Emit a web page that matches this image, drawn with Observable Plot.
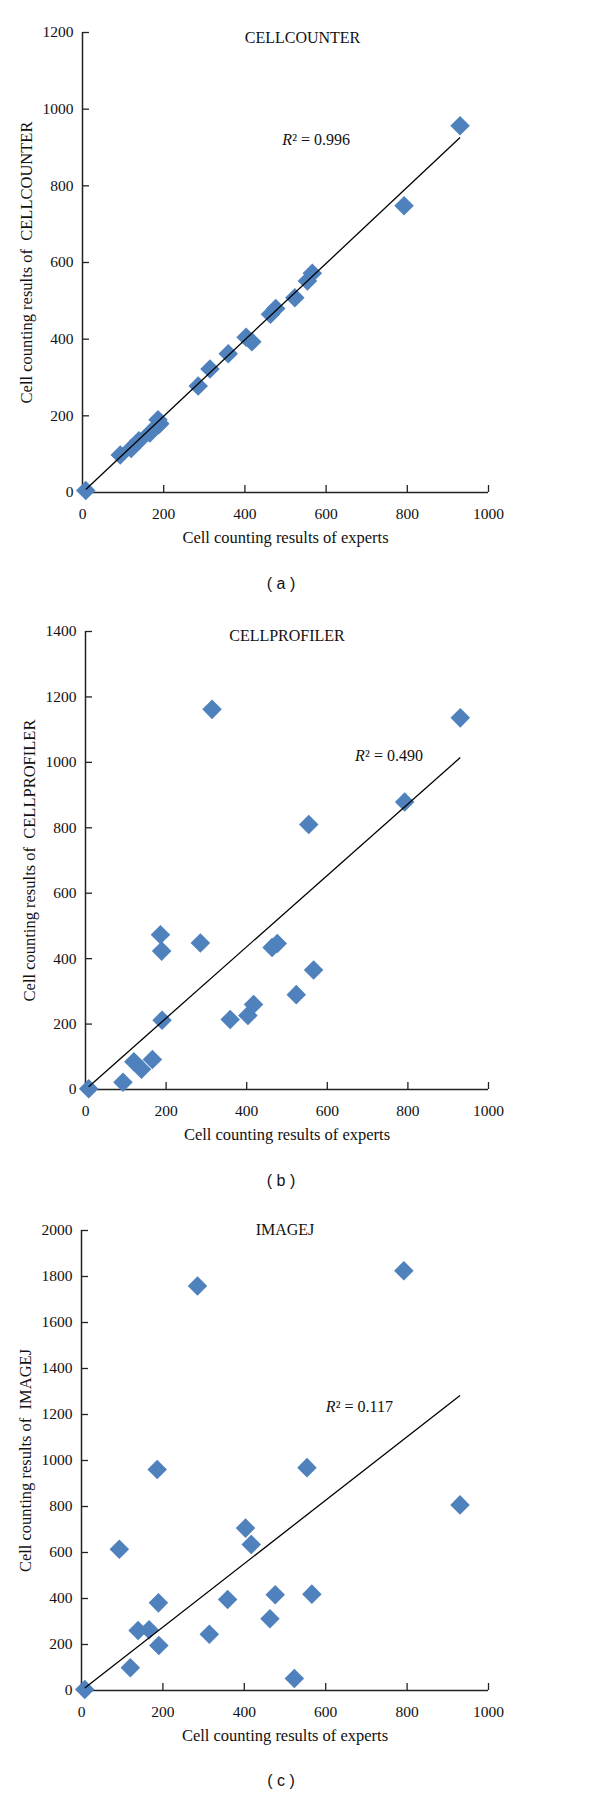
<!DOCTYPE html>
<html>
<head>
<meta charset="utf-8">
<script src="https://cdn.jsdelivr.net/npm/d3@7"></script>
<script src="https://cdn.jsdelivr.net/npm/@observablehq/plot@0.6"></script>
<style>
  body { margin: 0; background: #fff; }
  #root { position: relative; width: 600px; height: 1798px; }
  .panel { position: absolute; left: 0; }
  .cap { position: absolute; width: 60px; text-align: center; font-family: "Liberation Sans", Arial, sans-serif; font-size: 16px; color: #111; }
  svg text { font-family: 'Liberation Serif', 'Times New Roman', serif; }
</style>
</head>
<body>
<div id="root"></div>
<script>
// ---- data ----
const experts      = [8, 93, 120, 139, 166, 186, 189, 190, 285, 314, 359, 403, 417, 463, 476, 523, 554, 566, 792, 930];
const cellcounter  = [5, 98, 115, 135, 155, 190, 178, 180, 278, 322, 362, 405, 393, 465, 480, 508, 552, 572, 748, 957];
const cellprofiler = [2, 22, 85, 62, 92, 473, 423, 212, 448, 1162, 214, 226, 260, 434, 446, 290, 810, 365, 879, 1136];
const imagej       = [4, 614, 99, 261, 264, 961, 381, 196, 1759, 245, 396, 706, 635, 312, 416, 52, 969, 419, 1825, 807];
const tools        = ["CELLCOUNTER", "CELLPROFILER", "IMAGEJ"];
const r2Values     = ["0.996", "0.490", "0.117"];
const trendSlopes  = [0.996, 1.091, 1.379];
const yMax         = [1200, 1400, 2000];
const captions     = ["( a )", "( b )", "( c )"];
const xTicks       = [0, 200, 400, 600, 800, 1000];
const xLabel       = "Cell counting results of experts";
const yLabelPrefix = "Cell counting results of  ";

const series = [cellcounter, cellprofiler, imagej];

// ---- layout per panel ----
const layout = [
  {top: 0,    mt: 32, mb: 68, ml: 82, mr: 112, titleDx: 17, titleDy: 5,  r2: [492, 907],  cap: 585},
  {top: 598,  mt: 33, mb: 69, ml: 85, mr: 112, titleDx: 0,  titleDy: 4,  r2: [669, 1003], cap: 1182},
  {top: 1200, mt: 30, mb: 70, ml: 81, mr: 112, titleDx: 0,  titleDy: -1, r2: [600, 1209], cap: 1782}
];

const serif = "'Liberation Serif', 'Times New Roman', serif";
const root = document.getElementById("root");
const fmt = d3.format("d");

series.forEach((ys, i) => {
  const L = layout[i];
  const pts = experts.map((x, j) => ({x, y: ys[j]}));
  const [x0, x1] = d3.extent(experts);
  const trend = [{x1: x0, y1: trendSlopes[i] * x0, x2: x1, y2: trendSlopes[i] * x1}];
  const yTicks = d3.range(0, yMax[i] + 1, 200);

  const chart = Plot.plot({
    width: 600,
    height: 560,
    marginTop: L.mt,
    marginBottom: L.mb,
    marginLeft: L.ml,
    marginRight: L.mr,
    style: {fontFamily: serif, fontSize: "15px", color: "#111", background: "#fff"},
    x: {domain: [0, 1000]},
    y: {domain: [0, yMax[i]]},
    marks: [
      Plot.axisX({ticks: xTicks, tickFormat: fmt, tickSize: -7, tickPadding: 22, label: null, stroke: "#222", strokeWidth: 1.3, fontSize: 15.5, fontFamily: serif, fill: "#111"}),
      Plot.axisY({ticks: yTicks, tickFormat: fmt, tickSize: -7, tickPadding: 16, label: null, stroke: "#222", strokeWidth: 1.3, fontSize: 15.5, fontFamily: serif, fill: "#111"}),
      Plot.ruleY([0], {stroke: "#222", strokeWidth: 1.5}),
      Plot.ruleX([0], {stroke: "#222", strokeWidth: 1.5}),
      Plot.dot(pts, {x: "x", y: "y", symbol: "diamond2", r: 8.8, fill: "#4f81bd", stroke: "none"}),
      Plot.link(trend, {x1: "x1", y1: "y1", x2: "x2", y2: "y2", stroke: "#000", strokeWidth: 1.3}),
      Plot.text([tools[i]], {frameAnchor: "top", textAnchor: "middle", dx: L.titleDx, dy: L.titleDy, fontSize: 16, fontFamily: serif, lineAnchor: "middle", fill: "#111"}),
      Plot.text([xLabel], {frameAnchor: "bottom", textAnchor: "middle", dy: 45, fontSize: 16.5, fontFamily: serif, lineAnchor: "middle", fill: "#111"}),
      Plot.text([yLabelPrefix + tools[i]], {frameAnchor: "left", textAnchor: "middle", dx: -56, rotate: -90, fontSize: 16.5, fontFamily: serif, lineAnchor: "middle", fill: "#111"}),
      Plot.text(["R"], {x: () => L.r2[0], y: () => L.r2[1], textAnchor: "start", lineAnchor: "bottom", fontStyle: "italic", fontSize: 16, fontFamily: serif, fill: "#111"}),
      Plot.text(["\u00B2 = " + r2Values[i]], {x: () => L.r2[0], y: () => L.r2[1], dx: 10, textAnchor: "start", lineAnchor: "bottom", fontSize: 16, fontFamily: serif, fill: "#111"})
    ]
  });
  const wrap = document.createElement("div");
  wrap.className = "panel";
  wrap.style.top = L.top + "px";
  wrap.appendChild(chart);
  root.appendChild(wrap);

  const cap = document.createElement("div");
  cap.className = "cap";
  cap.style.left = (281 - 30) + "px";
  cap.style.top = (L.cap - 10) + "px";
  cap.textContent = captions[i];
  root.appendChild(cap);
});
</script>
</body>
</html>
